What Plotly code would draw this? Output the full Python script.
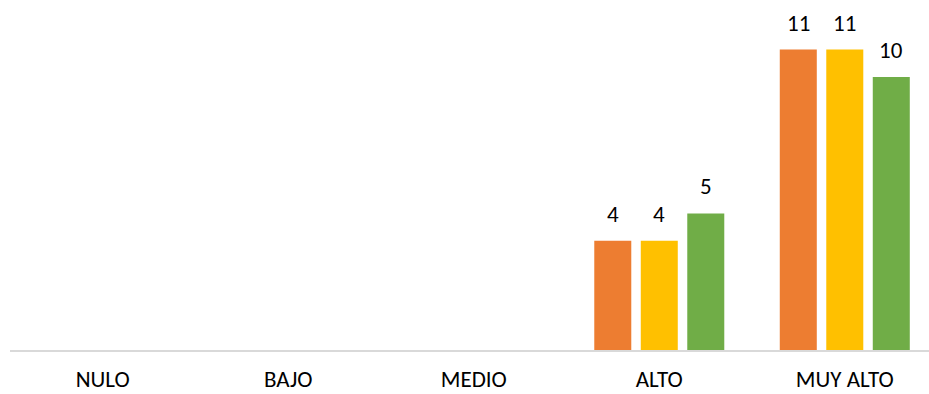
import plotly.graph_objects as go

categories = ["NULO", "BAJO", "MEDIO", "ALTO", "MUY ALTO"]
series_names = ["Serie 1", "Serie 2", "Serie 3"]
serie1 = [0, 0, 0, 4, 11]
serie2 = [0, 0, 0, 4, 11]
serie3 = [0, 0, 0, 5, 10]
colors = ["#ED7D31", "#FFC000", "#70AD47"]

FONT = "Calibri, Carlito, Lato, sans-serif"
SLOT_PX = 46.5

fig = go.Figure()
all_series = [serie1, serie2, serie3]
for i, (name, vals, col) in enumerate(zip(series_names, all_series, colors)):
    fig.add_trace(go.Bar(
        x=categories, y=vals, name=name,
        marker=dict(color=col, line=dict(width=0)),
    ))
    for cat, v in zip(categories, vals):
        if v:
            fig.add_annotation(
                x=cat, y=v, xref="x", yref="y", text=str(v),
                showarrow=False, yanchor="bottom", xanchor="center",
                xshift=(i - 1) * SLOT_PX, yshift=11,
                font=dict(family=FONT, size=23, color="#000000"),
            )

fig.update_layout(
    width=929, height=394,
    margin=dict(l=10, r=0, t=10, b=44),
    paper_bgcolor="white", plot_bgcolor="white",
    barmode="group", bargap=0.248, bargroupgap=0.204,
    showlegend=False,
    font=dict(family=FONT, size=23, color="#000000"),
)
fig.update_xaxes(
    range=[-0.5, 4.454], showgrid=False, showline=True,
    linecolor="#D9D9D9", linewidth=2, ticks="",
    tickfont=dict(family=FONT, size=23, color="#000000"),
    ticklabelstandoff=7,
)
fig.update_yaxes(
    range=[0, 12.45], showgrid=False, showticklabels=False,
    zeroline=False, showline=False,
)
fig.write_html("out.html")
